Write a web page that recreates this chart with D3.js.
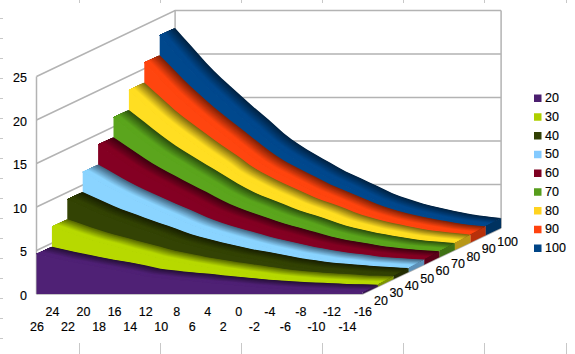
<!DOCTYPE html>
<html>
<head>
<meta charset="utf-8">
<script src="https://cdn.jsdelivr.net/npm/d3@7"></script>
<style>
  html, body { margin: 0; padding: 0; background: #fff; }
  svg { display: block; }
  text { font-family: "Liberation Sans", sans-serif; font-size: 12.5px; fill: #000; stroke: #000; stroke-width: .15; }
</style>
</head>
<body>
<div id="wrapper"></div>
<script>
const temps = ["26","24","22","20","18","16","14","12","10","8","6","4","2","0","-2","-4","-6","-8","-10","-12","-14","-16"];
const seriesNames = ["20","30","40","50","60","70","80","90","100"];
const colors = ["#4B1F6F","#AECF00","#314004","#83CAFF","#7E0021","#579D1C","#FFD320","#FF420E","#004586"];
const yTicks = [0,5,10,15,20,25];

const s20 = [4.6,4.2,3.8,3.45,3.1,2.8,2.45,2.05,1.85,1.65,1.5,1.3,1.15,.97,.8,.67,.56,.47,.4,.32,.27,.23];
const s30 = [6.9,6.3,5.7,5.15,4.7,4.2,3.75,3.25,2.9,2.55,2.25,1.95,1.7,1.45,1.2,1.0,.85,.7,.6,.48,.4,.35];
const s40 = [9.2,8.4,7.6,6.9,6.25,5.6,5.0,4.35,3.85,3.4,3.0,2.6,2.3,1.95,1.6,1.35,1.1,.95,.8,.65,.55,.46];
const s50 = [11.5,10.5,9.5,8.6,7.8,7.0,6.25,5.45,4.8,4.25,3.75,3.25,2.8,2.4,2.0,1.7,1.4,1.2,.95,.8,.68,.58];
const s60 = [13.8,12.6,11.4,10.3,9.35,8.4,7.5,6.55,5.75,5.1,4.5,3.9,3.4,2.9,2.4,2.0,1.7,1.4,1.15,.95,.8,.69];
const s70 = [16.1,14.7,13.3,12.0,10.9,9.8,8.75,7.65,6.7,5.95,5.25,4.55,4.0,3.4,2.8,2.35,1.95,1.65,1.35,1.1,.95,.8];
const s80 = [18.4,16.8,15.2,13.8,12.5,11.2,10.0,8.7,7.7,6.8,6.0,5.2,4.55,3.9,3.2,2.7,2.25,1.9,1.55,1.3,1.1,.92];
const s90 = [20.7,18.9,17.1,15.5,14.0,12.6,11.2,9.8,8.6,7.65,6.75,5.85,5.1,4.35,3.6,3.0,2.5,2.1,1.75,1.45,1.2,1.03];
const s100 = [23.0,21.0,19.0,17.2,15.6,14.0,12.5,10.9,9.6,8.5,7.5,6.5,5.7,4.85,4.0,3.35,2.8,2.35,1.95,1.6,1.35,1.15];
const allSeries = [s20,s30,s40,s50,s60,s70,s80,s90,s100];

const width = 575, height = 354;
const origin = {x: 36.5, y: 294};

const xScale = d3.scalePoint().domain(temps).range([0, 326]);
const yScale = d3.scaleLinear().domain([0, 25]).range([0, -217.5]);
// depth runs 0..9, one unit per series, sheared up and to the right
const depthX = d3.scaleLinear().domain([0, 9]).range([0, 138.6]);
const depthY = d3.scaleLinear().domain([0, 9]).range([0, -66]);

function project(t, v, d) {
  return [origin.x + xScale(t) + depthX(d), origin.y + yScale(v) + depthY(d)];
}
const line = d3.line();

const svg = d3.select("#wrapper").append("svg")
  .attr("width", width).attr("height", height);

// ruler marks round the edge of the picture
const rulerX = [79,160,241,322,403,484,566];
const rulerY = d3.range(18, 354, 20);
const ruler = svg.append("g").attr("stroke", "#c8c8c8").attr("stroke-width", 1);
rulerX.forEach(x => {
  ruler.append("line").attr("x1", x + .5).attr("x2", x + .5).attr("y1", 0).attr("y2", 3);
  ruler.append("line").attr("x1", x + .5).attr("x2", x + .5).attr("y1", 343).attr("y2", 354);
});
rulerY.forEach(y => {
  ruler.append("line").attr("x1", 0).attr("x2", 3).attr("y1", y + .5).attr("y2", y + .5);
});

// walls and grid
const first = temps[0], last = temps[temps.length - 1];
const walls = svg.append("g").attr("fill", "none").attr("stroke", "#b3b3b3").attr("stroke-width", 1.5);
yTicks.forEach(v => {
  walls.append("path").attr("d", line([project(first, v, 0), project(first, v, 9), project(last, v, 9)]));
});
walls.append("path").attr("d", line([project(first, 0, 0), project(first, 25, 0)]));
walls.append("path").attr("d", line([project(first, 0, 9), project(first, 25, 9)]));
walls.append("path").attr("d", line([project(last, 0, 9), project(last, 25, 9)]));
walls.append("path").attr("d", line([project(first, 0, 0), project(last, 0, 0), project(last, 0, 9)]));

function shade(c, k) {
  const r = d3.rgb(c);
  return d3.rgb(r.r * k, r.g * k, r.b * k).clamp().formatHex();
}

const strip = d3.area()
  .x0(p => p.x0).y0(p => p.y0)
  .x1(p => p.x1).y1(p => p.y1)
  .curve(d3.curveMonotoneX);

const slices = 24;

// paint from the back row to the front one
const marks = svg.append("g");
d3.range(allSeries.length - 1, -1, -1).forEach(k => {
  const vals = allSeries[k];
  // lit faces come out a little brighter than the legend swatches
  const col = shade(colors[k], 1.05);
  const g = marks.append("g");
  const ramp = d3.interpolateRgb(col, shade(colors[k], .5));

  // right hand end of the slab
  g.append("path").attr("fill", shade(colors[k], .72))
    .attr("d", line([project(last, 0, k), project(last, vals[21], k), project(last, vals[21], k + 1), project(last, 0, k + 1)]) + "Z");

  // top surface: each slice reaches down to the front edge, later ones paint over it
  d3.range(slices, 0, -1).forEach(j => {
    const t = j / slices;
    const fill = t < .3 ? col : ramp((t - .3) / .7);
    const pts = temps.map((name, i) => {
      const a = project(name, vals[i], k);
      const b = project(name, vals[i], k + t);
      return {x0: a[0], y0: a[1], x1: b[0], y1: b[1]};
    });
    g.append("path").attr("fill", fill).attr("d", strip(pts));
  });

  // front face
  const pts = temps.map((name, i) => {
    const a = project(name, 0, k), b = project(name, vals[i], k);
    return {x0: a[0], y0: a[1], x1: b[0], y1: b[1]};
  });
  g.append("path").attr("fill", col).attr("d", strip(pts));
});

// value axis
const yAxis = svg.append("g")
  .attr("transform", `translate(${origin.x},${origin.y})`)
  .call(d3.axisLeft(yScale).tickValues(yTicks).tickSize(0).tickPadding(9.5));
yAxis.select(".domain").remove();
yAxis.selectAll("text").attr("y", 1);

// temperature axis, labels staggered on two rows
const xAxis = svg.append("g")
  .attr("transform", `translate(${origin.x},${origin.y})`)
  .call(d3.axisBottom(xScale).tickSize(0));
xAxis.select(".domain").remove();
xAxis.selectAll("text")
  .attr("dy", null)
  .attr("y", (d, i) => i % 2 ? 22.4 : 37.4);

svg.selectAll("text.depth")
  .data(seriesNames)
  .join("text")
  .attr("class", "depth")
  .attr("x", (d, i) => project(last, 0, i)[0] + 11.5)
  .attr("y", (d, i) => project(last, 0, i)[1] + 10.5)
  .text(d => d);

// legend
const legendY = d3.scalePoint().domain(seriesNames).range([98, 248]);
const legend = svg.append("g");
seriesNames.forEach((s, i) => {
  legend.append("rect").attr("x", 534).attr("y", legendY(s) - 3.5).attr("width", 7.5).attr("height", 7.5)
    .attr("fill", colors[i]);
  legend.append("text").attr("x", 545).attr("y", legendY(s) + 4).text(s);
});
</script>
</body>
</html>
